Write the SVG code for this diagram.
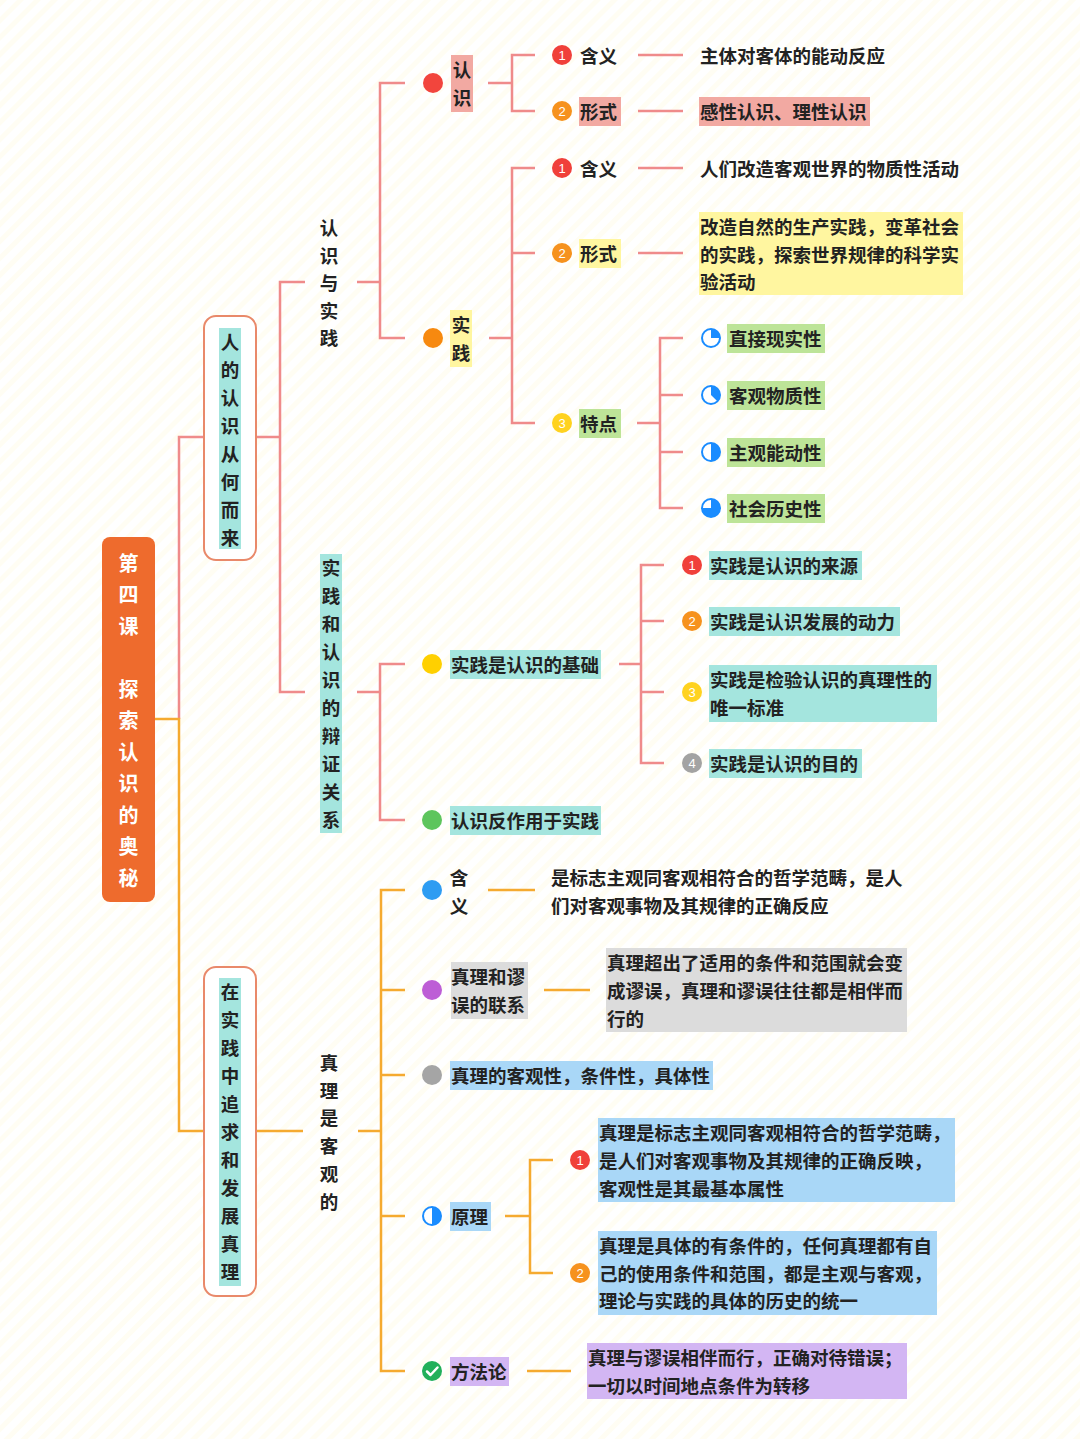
<svg xmlns="http://www.w3.org/2000/svg" width="1080" height="1439" viewBox="0 0 1080 1439">
<defs>
<pattern id="bgp" width="12" height="12" patternUnits="userSpaceOnUse" patternTransform="rotate(45)">
<rect width="12" height="12" fill="#FFFFFF"/><rect width="5" height="12" fill="#FFFDF3"/>
</pattern>
<style>
.t{font-family:"Noto Sans CJK SC","Noto Sans",sans-serif;font-size:18.5px;font-weight:700;fill:#222;dominant-baseline:central}
.tv{font-family:"Noto Sans CJK SC","Noto Sans",sans-serif;font-size:18.5px;font-weight:700;fill:#222;dominant-baseline:central;text-anchor:middle}
.rt{font-family:"Noto Sans CJK SC","Noto Sans",sans-serif;font-size:20px;font-weight:700;fill:#fff;dominant-baseline:central;text-anchor:middle}
.n{font-family:"Liberation Sans",sans-serif;font-size:13px;fill:#fff;dominant-baseline:central;text-anchor:middle}
.pk{stroke:#EF8B8B;stroke-width:2.5;fill:none}
.og{stroke:#F5AA30;stroke-width:2.5;fill:none}
.box{fill:#fff;stroke:#E9896A;stroke-width:2}
.cy{fill:#A4E5DE}.pi{fill:#F2A9A2}.ye{fill:#FFF6A0}.gr{fill:#BDE498}.lb{fill:#A9D7F7}.gy{fill:#DCDCDC}.pu{fill:#D3B6F3}
.c1{fill:#F0403A}.c2{fill:#F6921E}.c3{fill:#FFD21F}.c4{fill:#A3A3A3}
.pie{fill:#fff;stroke:#1A8CFF;stroke-width:2}
.pf{fill:#1A8CFF}
</style>
</defs>
<rect width="1080" height="1439" fill="url(#bgp)"/>

<g id="connectors">
<path class="pk" d="M204 437 H179 V719"/>
<path class="og" d="M155 719 H179 V1131 H204"/>
<path class="pk" d="M256 437 H280 M305 282 H280 V692 H305"/>
<path class="pk" d="M357 282 H380 M405 83 H380 V338 H405"/>
<path class="pk" d="M488 83 H512 M535 55 H512 V111 H535"/>
<path class="pk" d="M638 55 H683 M638 111 H683"/>
<path class="pk" d="M489 338 H512 M535 168 H512 V423 H535 M512 253 H535"/>
<path class="pk" d="M638 168 H683 M638 253 H683"/>
<path class="pk" d="M637 423 H660 M683 338 H660 V508 H683 M660 395 H683 M660 452 H683"/>
<path class="pk" d="M357 692 H380 M405 664 H380 V820 H405"/>
<path class="pk" d="M619 664 H641 M664 565 H641 V763 H664 M641 621 H664 M641 692 H664"/>
<path class="og" d="M256 1131 H303"/>
<path class="og" d="M358 1131 H381 M405 890 H381 V1371 H405 M381 990 H405 M381 1075 H405 M381 1216 H405"/>
<path class="og" d="M488 890 H535"/>
<path class="og" d="M544 990 H590"/>
<path class="og" d="M505 1216 H530 M553 1160 H530 V1273 H553"/>
<path class="og" d="M527 1371 H571"/>
</g>

<g id="root">
<rect x="102" y="537" width="53" height="365" rx="8" fill="#EE6B2D"/>
<text class="rt" x="128.5" y="562">第</text>
<text class="rt" x="128.5" y="593.5">四</text>
<text class="rt" x="128.5" y="625">课</text>
<text class="rt" x="128.5" y="688">探</text>
<text class="rt" x="128.5" y="719.5">索</text>
<text class="rt" x="128.5" y="751">认</text>
<text class="rt" x="128.5" y="782.5">识</text>
<text class="rt" x="128.5" y="814">的</text>
<text class="rt" x="128.5" y="845.5">奥</text>
<text class="rt" x="128.5" y="877">秘</text>
</g>

<g id="n-renshi-conghe">
<rect class="box" x="204" y="316" width="52" height="244" rx="12"/>
<rect class="cy" x="219" y="328" width="22" height="221"/>
<text class="tv" x="230" y="341">人</text>
<text class="tv" x="230" y="369">的</text>
<text class="tv" x="230" y="397">认</text>
<text class="tv" x="230" y="425">识</text>
<text class="tv" x="230" y="453">从</text>
<text class="tv" x="230" y="481">何</text>
<text class="tv" x="230" y="509">而</text>
<text class="tv" x="230" y="537">来</text>
</g>

<g id="n-renshi-yu-shijian">
<text class="tv" x="329" y="227">认</text>
<text class="tv" x="329" y="254.5">识</text>
<text class="tv" x="329" y="282">与</text>
<text class="tv" x="329" y="309.5">实</text>
<text class="tv" x="329" y="337">践</text>
</g>

<g id="n-renshi">
<circle cx="433" cy="83" r="10" fill="#F2453D"/>
<rect class="pi" x="451" y="55" width="22" height="57"/>
<text class="tv" x="462" y="69">认</text>
<text class="tv" x="462" y="97">识</text>
</g>
<g id="n-renshi-hanyi">
<circle class="c1" cx="562" cy="55" r="10"/><text class="n" x="562" y="55">1</text>
<text class="t" x="580" y="55">含义</text>
</g>
<g id="n-renshi-hanyi-val">
<text class="t" x="700" y="55">主体对客体的能动反应</text>
</g>
<g id="n-renshi-xingshi">
<circle class="c2" cx="562" cy="111" r="10"/><text class="n" x="562" y="111">2</text>
<rect class="pi" x="579" y="97" width="42" height="29"/>
<text class="t" x="580" y="111">形式</text>
</g>
<g id="n-renshi-xingshi-val">
<rect class="pi" x="699" y="97" width="171" height="29"/>
<text class="t" x="700" y="111">感性认识、理性认识</text>
</g>

<g id="n-shijian">
<circle cx="433" cy="338" r="10" fill="#F7890F"/>
<rect class="ye" x="450" y="310" width="22" height="57"/>
<text class="tv" x="461" y="324">实</text>
<text class="tv" x="461" y="352">践</text>
</g>
<g id="n-shijian-hanyi">
<circle class="c1" cx="562" cy="168" r="10"/><text class="n" x="562" y="168">1</text>
<text class="t" x="580" y="168">含义</text>
</g>
<g id="n-shijian-hanyi-val">
<text class="t" x="700" y="168">人们改造客观世界的物质性活动</text>
</g>
<g id="n-shijian-xingshi">
<circle class="c2" cx="562" cy="253" r="10"/><text class="n" x="562" y="253">2</text>
<rect class="ye" x="579" y="239" width="42" height="29"/>
<text class="t" x="580" y="253">形式</text>
</g>
<g id="n-shijian-xingshi-val">
<rect class="ye" x="699" y="212" width="264" height="83"/>
<text class="t" x="700" y="226">改造自然的生产实践，变革社会</text>
<text class="t" x="700" y="253.5">的实践，探索世界规律的科学实</text>
<text class="t" x="700" y="281">验活动</text>
</g>
<g id="n-shijian-tedian">
<circle class="c3" cx="562" cy="423" r="10"/><text class="n" x="562" y="423">3</text>
<rect class="gr" x="579" y="409" width="42" height="29"/>
<text class="t" x="580" y="423">特点</text>
</g>
<g id="n-td1">
<circle class="pie" cx="711" cy="338" r="9"/>
<path class="pf" d="M711 338 L711 329 A9 9 0 0 1 720 338 Z"/>
<rect class="gr" x="727" y="324" width="98" height="29"/>
<text class="t" x="729" y="338">直接现实性</text>
</g>
<g id="n-td2">
<circle class="pie" cx="711" cy="395" r="9"/>
<path class="pf" d="M711 395 L711 386 A9 9 0 0 1 717.36 401.36 Z"/>
<rect class="gr" x="727" y="381" width="98" height="29"/>
<text class="t" x="729" y="395">客观物质性</text>
</g>
<g id="n-td3">
<circle class="pie" cx="711" cy="452" r="9"/>
<path class="pf" d="M711 452 L711 443 A9 9 0 0 1 711 461 Z"/>
<rect class="gr" x="727" y="438" width="98" height="29"/>
<text class="t" x="729" y="452">主观能动性</text>
</g>
<g id="n-td4">
<circle class="pie" cx="711" cy="508" r="9"/>
<path class="pf" d="M711 508 L711 499 A9 9 0 1 1 702 508 Z"/>
<rect class="gr" x="727" y="494" width="98" height="29"/>
<text class="t" x="729" y="508">社会历史性</text>
</g>

<g id="n-bianzheng">
<rect class="cy" x="320" y="554" width="22" height="279"/>
<text class="tv" x="331" y="567">实</text>
<text class="tv" x="331" y="595">践</text>
<text class="tv" x="331" y="623">和</text>
<text class="tv" x="331" y="651">认</text>
<text class="tv" x="331" y="679">识</text>
<text class="tv" x="331" y="707">的</text>
<text class="tv" x="331" y="735">辩</text>
<text class="tv" x="331" y="763">证</text>
<text class="tv" x="331" y="791">关</text>
<text class="tv" x="331" y="819">系</text>
</g>
<g id="n-jichu">
<circle cx="432" cy="664" r="10" fill="#FFD000"/>
<rect class="cy" x="450" y="650" width="151" height="29"/>
<text class="t" x="451" y="664">实践是认识的基础</text>
</g>
<g id="n-jc1">
<circle class="c1" cx="692" cy="565" r="10"/><text class="n" x="692" y="565">1</text>
<rect class="cy" x="709" y="551" width="153" height="29"/>
<text class="t" x="710" y="565">实践是认识的来源</text>
</g>
<g id="n-jc2">
<circle class="c2" cx="692" cy="621" r="10"/><text class="n" x="692" y="621">2</text>
<rect class="cy" x="709" y="607" width="191" height="29"/>
<text class="t" x="710" y="621">实践是认识发展的动力</text>
</g>
<g id="n-jc3">
<circle class="c3" cx="692" cy="692" r="10"/><text class="n" x="692" y="692">3</text>
<rect class="cy" x="709" y="665" width="228" height="57"/>
<text class="t" x="710" y="679">实践是检验认识的真理性的</text>
<text class="t" x="710" y="707">唯一标准</text>
</g>
<g id="n-jc4">
<circle class="c4" cx="692" cy="763" r="10"/><text class="n" x="692" y="763">4</text>
<rect class="cy" x="709" y="749" width="153" height="29"/>
<text class="t" x="710" y="763">实践是认识的目的</text>
</g>
<g id="n-fanzuoyong">
<circle cx="432" cy="820" r="10" fill="#5DC55D"/>
<rect class="cy" x="450" y="806" width="151" height="29"/>
<text class="t" x="451" y="820">认识反作用于实践</text>
</g>

<g id="n-zhuiqiu">
<rect class="box" x="204" y="967" width="52" height="329" rx="12"/>
<rect class="cy" x="219" y="978" width="22" height="308"/>
<text class="tv" x="230" y="991">在</text>
<text class="tv" x="230" y="1019">实</text>
<text class="tv" x="230" y="1047">践</text>
<text class="tv" x="230" y="1075">中</text>
<text class="tv" x="230" y="1103">追</text>
<text class="tv" x="230" y="1131">求</text>
<text class="tv" x="230" y="1159">和</text>
<text class="tv" x="230" y="1187">发</text>
<text class="tv" x="230" y="1215">展</text>
<text class="tv" x="230" y="1243">真</text>
<text class="tv" x="230" y="1271">理</text>
</g>
<g id="n-keguan">
<text class="tv" x="329" y="1061.5">真</text>
<text class="tv" x="329" y="1089.5">理</text>
<text class="tv" x="329" y="1117">是</text>
<text class="tv" x="329" y="1145">客</text>
<text class="tv" x="329" y="1173">观</text>
<text class="tv" x="329" y="1200.5">的</text>
</g>
<g id="n-zl-hanyi">
<circle cx="432" cy="890" r="10" fill="#2E9CF2"/>
<text class="tv" x="459" y="877">含</text>
<text class="tv" x="459" y="905">义</text>
</g>
<g id="n-zl-hanyi-val">
<text class="t" x="551" y="877">是标志主观同客观相符合的哲学范畴，是人</text>
<text class="t" x="551" y="905">们对客观事物及其规律的正确反应</text>
</g>
<g id="n-miuwu">
<circle cx="432" cy="990" r="10" fill="#BD5ED6"/>
<rect class="gy" x="451" y="962" width="77" height="57"/>
<text class="t" x="451" y="976">真理和谬</text>
<text class="t" x="451" y="1004">误的联系</text>
</g>
<g id="n-miuwu-val">
<rect class="gy" x="606" y="948" width="301" height="84"/>
<text class="t" x="607" y="962">真理超出了适用的条件和范围就会变</text>
<text class="t" x="607" y="990">成谬误，真理和谬误往往都是相伴而</text>
<text class="t" x="607" y="1018">行的</text>
</g>
<g id="n-xingzhi">
<circle cx="432" cy="1075" r="10" fill="#A5A5A5"/>
<rect class="lb" x="450" y="1061" width="263" height="29"/>
<text class="t" x="451" y="1075">真理的客观性，条件性，具体性</text>
</g>
<g id="n-yuanli">
<circle class="pie" cx="432" cy="1216" r="9"/>
<path class="pf" d="M432 1216 L432 1207 A9 9 0 0 1 432 1225 Z"/>
<rect class="lb" x="450" y="1202" width="41" height="29"/>
<text class="t" x="451" y="1216">原理</text>
</g>
<g id="n-yl1">
<circle class="c1" cx="580" cy="1160" r="10"/><text class="n" x="580" y="1160">1</text>
<rect class="lb" x="598" y="1118" width="357" height="84"/>
<text class="t" x="599" y="1132">真理是标志主观同客观相符合的哲学范畴，</text>
<text class="t" x="599" y="1160">是人们对客观事物及其规律的正确反映，</text>
<text class="t" x="599" y="1188">客观性是其最基本属性</text>
</g>
<g id="n-yl2">
<circle class="c2" cx="580" cy="1273" r="10"/><text class="n" x="580" y="1273">2</text>
<rect class="lb" x="598" y="1231" width="339" height="84"/>
<text class="t" x="599" y="1245">真理是具体的有条件的，任何真理都有自</text>
<text class="t" x="599" y="1273">己的使用条件和范围，都是主观与客观，</text>
<text class="t" x="599" y="1300">理论与实践的具体的历史的统一</text>
</g>
<g id="n-fangfalun">
<circle cx="432" cy="1371" r="10" fill="#22B05A"/>
<path d="M427 1371.5 L430.5 1375 L437.5 1367.5" fill="none" stroke="#fff" stroke-width="2.5" stroke-linecap="round" stroke-linejoin="round"/>
<rect class="pu" x="450" y="1357" width="59" height="29"/>
<text class="t" x="451" y="1371">方法论</text>
</g>
<g id="n-fangfalun-val">
<rect class="pu" x="587" y="1343" width="320" height="56"/>
<text class="t" x="588" y="1357">真理与谬误相伴而行，正确对待错误；</text>
<text class="t" x="588" y="1385">一切以时间地点条件为转移</text>
</g>
</svg>
